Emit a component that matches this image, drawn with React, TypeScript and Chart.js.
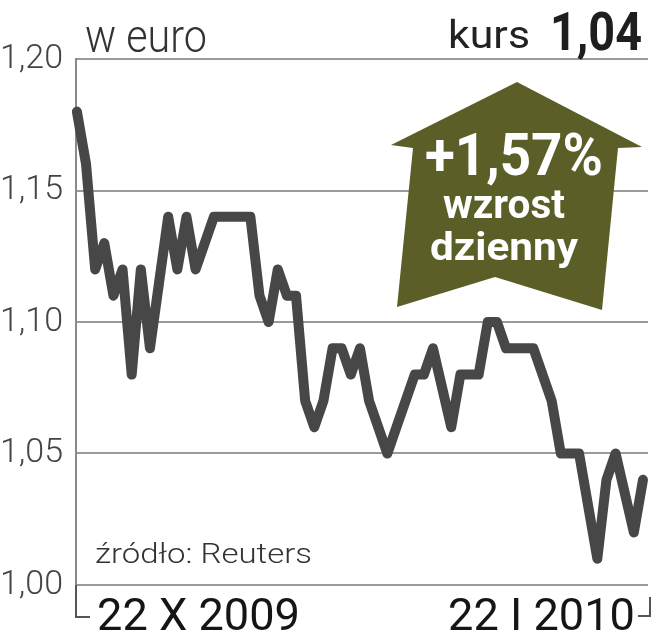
import React, { useEffect, useRef } from "react";
import { Chart, registerables } from "chart.js";

Chart.register(...registerables);

// EUR rate (w euro), trading days 22 X 2009 – 22 I 2010
const rates: number[] = [
  1.18, 1.16, 1.12, 1.13, 1.11, 1.12, 1.08, 1.12, 1.09, 1.115,
  1.14, 1.12, 1.14, 1.12, 1.13, 1.14, 1.14, 1.14, 1.14, 1.14,
  1.11, 1.10, 1.12, 1.11, 1.11, 1.07, 1.06, 1.07, 1.09, 1.09,
  1.08, 1.09, 1.07, 1.06, 1.05, 1.06, 1.07, 1.08, 1.08, 1.09,
  1.075, 1.06, 1.08, 1.08, 1.08, 1.10, 1.10, 1.09, 1.09, 1.09,
  1.09, 1.08, 1.07, 1.05, 1.05, 1.05, 1.03, 1.01, 1.04, 1.05,
  1.035, 1.02, 1.04,
];
const yTicks: number[] = [1.0, 1.05, 1.1, 1.15, 1.2];
const startLabel = "22 X 2009";
const endLabel = "22 I 2010";
const unitLabel = "w euro";
const kursLabel = "kurs";
const kursValue = "1,04";
const changeValue = "+1,57%";
const changeLine1 = "wzrost";
const changeLine2 = "dzienny";
const sourceLabel = "źródło: Reuters";

function fitText(
  ctx: CanvasRenderingContext2D,
  text: string,
  font: string,
  color: string,
  left: number,
  baseline: number,
  width: number
) {
  ctx.save();
  ctx.font = font;
  ctx.fillStyle = color;
  ctx.textAlign = "left";
  ctx.textBaseline = "alphabetic";
  const w = ctx.measureText(text).width;
  ctx.translate(left, baseline);
  ctx.scale(width / w, 1);
  ctx.fillText(text, 0, 0);
  ctx.restore();
}

const decorPlugin = {
  id: "decor",
  beforeDatasetsDraw(chart: any) {
    const ctx = chart.ctx as CanvasRenderingContext2D;
    // arrow
    ctx.save();
    ctx.fillStyle = "#5b5f27";
    ctx.beginPath();
    ctx.moveTo(517, 82);
    ctx.lineTo(642, 147);
    ctx.lineTo(618, 148);
    ctx.lineTo(602, 310);
    ctx.lineTo(495, 277);
    ctx.lineTo(397, 307);
    ctx.lineTo(413, 148);
    ctx.lineTo(391, 145);
    ctx.closePath();
    ctx.fill();
    ctx.restore();
    const bold = (s: number) => `700 ${s}px Roboto, "Liberation Sans", sans-serif`;
    fitText(ctx, changeValue, bold(59), "#ffffff", 425, 175, 178);
    fitText(ctx, changeLine1, bold(40), "#ffffff", 443, 218, 122);
    fitText(ctx, changeLine2, bold(38), "#ffffff", 430, 260, 148);
  },
  afterDraw(chart: any) {
    const ctx = chart.ctx as CanvasRenderingContext2D;
    const area = chart.chartArea;
    const f = (w: number, s: number) => `${w} ${s}px Roboto, "Liberation Sans", sans-serif`;
    fitText(ctx, unitLabel, f(300, 47), "#333333", 85, 52, 122);
    fitText(ctx, kursLabel, f(400, 38), "#222222", 448, 48, 82);
    fitText(ctx, kursValue, f(700, 53), "#1e1e1e", 550, 50, 92);
    fitText(ctx, sourceLabel, f(300, 28), "#333333", 95, 563, 217);
    fitText(ctx, startLabel, f(400, 45), "#151515", 97, 630, 203);
    fitText(ctx, endLabel, f(400, 45), "#151515", 448, 630, 187);
    // date bracket
    ctx.save();
    ctx.strokeStyle = "#555555";
    ctx.lineWidth = 2;
    ctx.beginPath();
    ctx.moveTo(area.left, area.bottom);
    ctx.lineTo(area.left, 617);
    ctx.lineTo(90, 617);
    ctx.moveTo(650, 597);
    ctx.lineTo(650, 616);
    ctx.lineTo(638, 616);
    ctx.stroke();
    ctx.restore();
  },
};

export default function App() {
  const ref = useRef<HTMLCanvasElement | null>(null);
  useEffect(() => {
    if (!ref.current) return;
    const chart = new Chart(ref.current, {
      type: "line",
      data: {
        datasets: [
          {
            data: rates.map((v, i) => ({ x: i, y: v })),
            borderColor: "#474747",
            borderWidth: 10,
            borderJoinStyle: "round",
            borderCapStyle: "round",
            pointRadius: 0,
            tension: 0,
            clip: false as any,
          },
        ],
      },
      options: {
        responsive: false,
        animation: false,
        layout: { padding: { top: 59, bottom: 55, left: 0, right: 4 } },
        plugins: { legend: { display: false }, tooltip: { enabled: false } },
        scales: {
          x: {
            type: "linear",
            display: false,
            min: -0.1,
            max: rates.length - 1 + 0.55,
          },
          y: {
            min: 1.0,
            max: 1.2,
            afterFit: (s: any) => {
              s.width = 76;
            },
            afterBuildTicks: (s: any) => {
              s.ticks = yTicks.map((v) => ({ value: v }));
            },
            grid: { color: "#9a9a9a", lineWidth: 2, drawTicks: false },
            border: { color: "#8a8a8a", width: 2 },
            ticks: {
              padding: 13,
              color: "#444444",
              font: { family: "Roboto", size: 34, weight: "300" as any },
              callback: (v: any) => Number(v).toFixed(2).replace(".", ","),
            },
          },
        },
      },
      plugins: [decorPlugin],
    });
    return () => chart.destroy();
  }, []);
  return (
    <div style={{ position: "fixed", left: 0, top: 0, width: 652, height: 640, background: "#fff" }}>
      <canvas ref={ref} width={652} height={640} />
    </div>
  );
}
